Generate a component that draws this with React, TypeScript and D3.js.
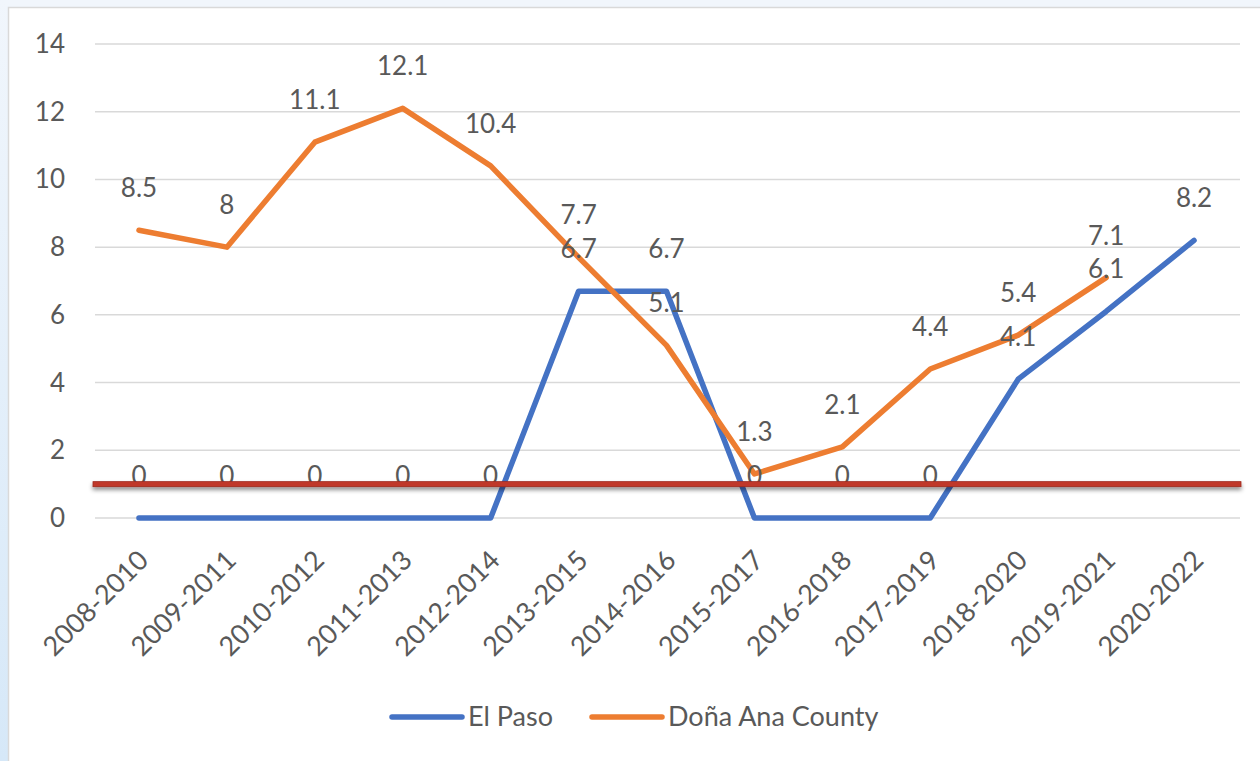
import React from "react";
import * as d3 from "d3";

// chart values
const periods = [
  "2008-2010", "2009-2011", "2010-2012", "2011-2013", "2012-2014", "2013-2015", "2014-2016",
  "2015-2017", "2016-2018", "2017-2019", "2018-2020", "2019-2021", "2020-2022",
];
const elPaso: (number | null)[] = [0, 0, 0, 0, 0, 6.7, 6.7, 0, 0, 0, 4.1, 6.1, 8.2];
const donaAna: (number | null)[] = [8.5, 8, 11.1, 12.1, 10.4, 7.7, 5.1, 1.3, 2.1, 4.4, 5.4, 7.1, null];
const yTicks = [0, 2, 4, 6, 8, 10, 12, 14];
const referenceLevel = 1;

const seriesList = [
  { name: "El Paso", values: elPaso, colour: "#4472C4" },
  { name: "Doña Ana County", values: donaAna, colour: "#ED7D31" },
];

const W = 1260;
const H = 761;
const FONT = "Lato, 'Open Sans', sans-serif";
const TEXT = "#595959";
const FS = 26;

export default function App() {
  const x = d3.scalePoint<string>().domain(periods).range([95, 1238]).padding(0.5);
  const y = d3.scaleLinear().domain([0, 14]).range([518, 44]);

  const line = d3
    .line<number | null>()
    .defined((d) => d !== null)
    .x((_, i) => x(periods[i]) as number)
    .y((d) => y(d as number));

  const refY = y(referenceLevel);

  return (
    <svg
      width={W}
      height={H}
      style={{ position: "absolute", left: 0, top: 0 }}
      fontFamily={FONT}
    >
      <defs>
        <linearGradient id="edge" x1="0" y1="0" x2="0" y2="1">
          <stop offset="0" stopColor="#f1f6fc" />
          <stop offset="1" stopColor="#d6e8f8" />
        </linearGradient>
        <filter id="shadow" filterUnits="userSpaceOnUse" x={80} y={refY - 20} width={1180} height={50}>
          <feDropShadow dx="0" dy="3" stdDeviation="2" floodColor="#000" floodOpacity="0.45" />
        </filter>
      </defs>
      <rect x={0} y={0} width={W} height={H} fill="#f1f6fc" />
      <rect x={0} y={0} width={8} height={H} fill="url(#edge)" />
      <rect x={8.5} y={7.5} width={W} height={H} fill="#ffffff" stroke="#d9d9d9" strokeWidth={1.5} />

      {/* gridlines and y labels */}
      {yTicks.map((t) => (
        <g key={t}>
          <line x1={95} x2={1240} y1={y(t)} y2={y(t)} stroke="#d9d9d9" strokeWidth={1.5} />
          <text x={65} y={y(t) + 9} textAnchor="end" fontSize={FS} fill={TEXT}>
            {t}
          </text>
        </g>
      ))}

      {/* x labels */}
      {periods.map((p) => (
        <text
          key={p}
          transform={`translate(${(x(p) as number) + 11},${562}) rotate(-45)`}
          textAnchor="end"
          fontSize={27}
          fill={TEXT}
        >
          {p}
        </text>
      ))}

      {/* series */}
      {seriesList.map((s) => (
        <path
          key={s.name}
          d={line(s.values) || ""}
          fill="none"
          stroke={s.colour}
          strokeWidth={5.5}
          strokeLinejoin="round"
          strokeLinecap="round"
        />
      ))}

      {/* data labels */}
      {seriesList.map((s) =>
        s.values.map((v, i) =>
          v === null ? null : (
            <text
              key={s.name + i}
              x={x(periods[i]) as number}
              y={y(v) - 33}
              textAnchor="middle"
              fontSize={FS}
              fill={TEXT}
            >
              {v}
            </text>
          )
        )
      )}

      {/* reference line */}
      <rect
        x={93}
        y={refY - 2.5}
        width={1148}
        height={5}
        fill="#C0392B"
        stroke="#9e2a1e"
        strokeWidth={0.8}
        filter="url(#shadow)"
      />

      {/* legend */}
      {seriesList.map((s, i) => {
        const lx = 392 + i * 200;
        return (
          <g key={s.name}>
            <line x1={lx} x2={lx + 70} y1={717} y2={717} stroke={s.colour} strokeWidth={5.5} strokeLinecap="round" />
            <text x={lx + 76} y={726} fontSize={27} fill={TEXT}>
              {s.name}
            </text>
          </g>
        );
      })}
    </svg>
  );
}
